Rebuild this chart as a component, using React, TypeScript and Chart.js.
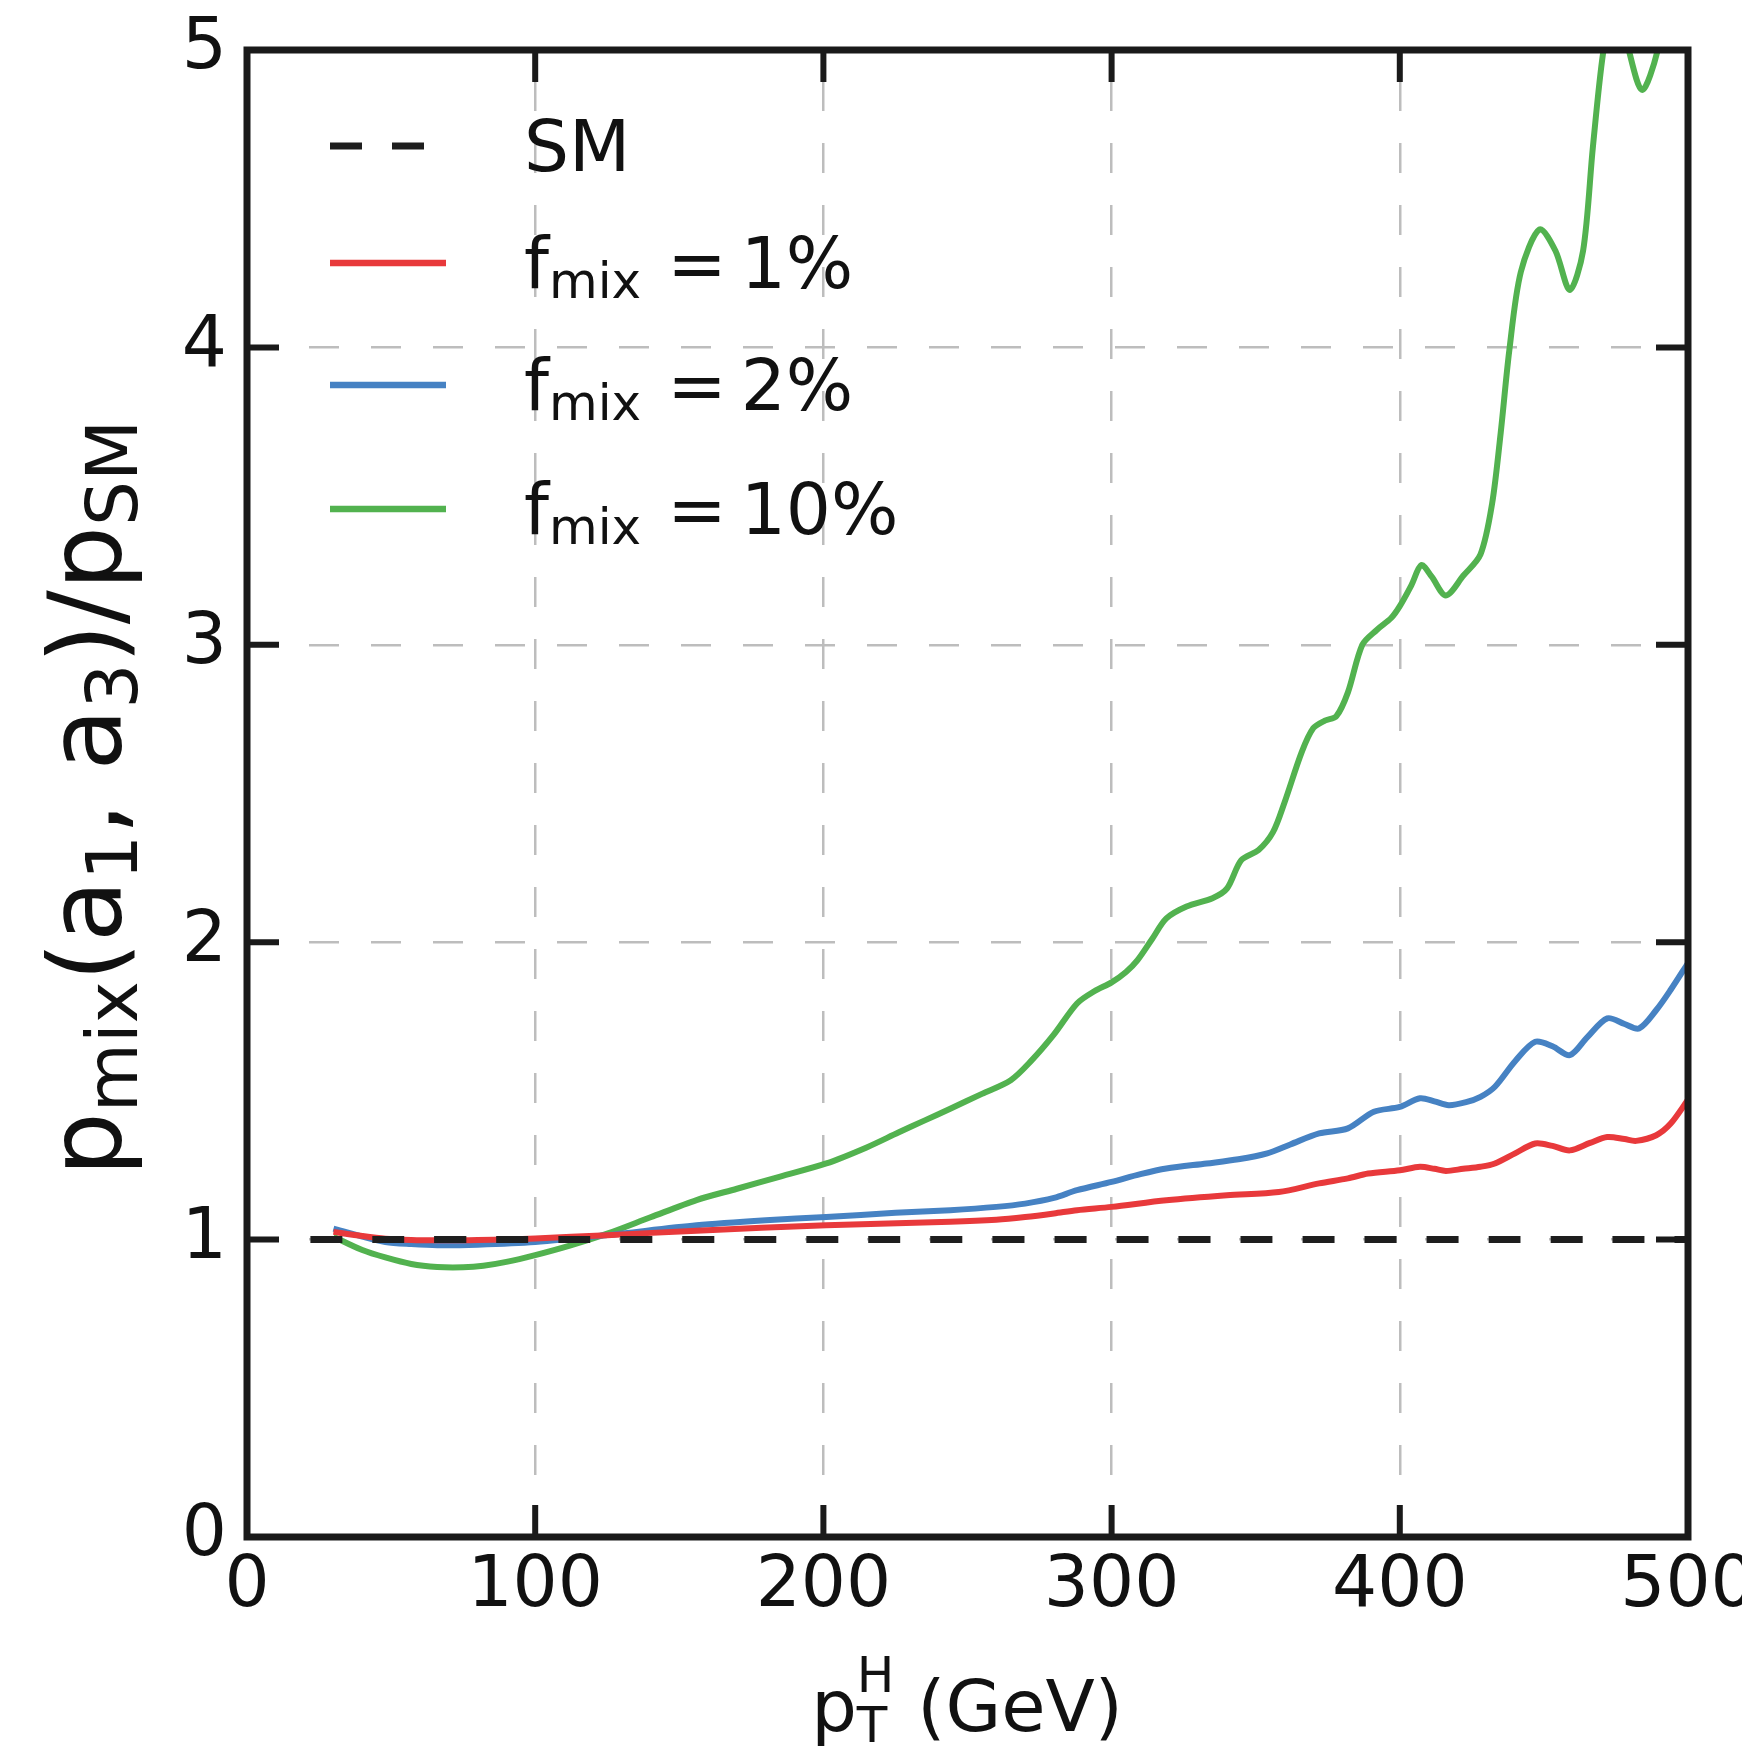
import React, { useEffect, useRef } from "react";
import { Chart, registerables } from "chart.js";

Chart.register(...registerables);

const W = 1742;
const H = 1759;
const FONT = '"DejaVu Sans", "Liberation Sans", sans-serif';

// ---- data ----
const xTicks = [0, 100, 200, 300, 400, 500];
const yTicks = [0, 1, 2, 3, 4, 5];

const ptSM = [22, 500];
const ratioSM = [1, 1];

const pt1 = [30, 40, 48, 57, 66, 80, 100, 125, 156, 201, 244, 260, 270, 280, 288, 300, 319, 340, 358, 372, 382, 389, 400, 407, 412, 416, 422, 428, 433, 440, 447, 453, 459, 466, 472, 478, 482, 489, 494, 500];
const ratio1 = [1.026, 1.012, 1.003, 0.999, 0.998, 0.999, 1.004, 1.015, 1.03, 1.048, 1.06, 1.067, 1.076, 1.088, 1.099, 1.11, 1.132, 1.149, 1.16, 1.189, 1.206, 1.222, 1.233, 1.245, 1.238, 1.231, 1.238, 1.245, 1.256, 1.29, 1.323, 1.315, 1.3, 1.325, 1.345, 1.338, 1.332, 1.351, 1.39, 1.47];

const pt2 = [30, 40, 48, 57, 66, 80, 100, 125, 156, 180, 201, 225, 244, 260, 270, 280, 288, 300, 310, 319, 333, 344, 354, 362, 372, 382, 391, 400, 407, 412, 417, 423, 428, 433, 440, 447, 453, 459, 465, 472, 478, 483, 489, 494, 500];
const ratio2 = [1.037, 1.01, 0.992, 0.985, 0.981, 0.983, 0.992, 1.015, 1.048, 1.065, 1.076, 1.09, 1.099, 1.11, 1.121, 1.14, 1.166, 1.194, 1.22, 1.239, 1.256, 1.27, 1.29, 1.32, 1.357, 1.374, 1.43, 1.446, 1.475, 1.465, 1.452, 1.462, 1.48, 1.514, 1.6, 1.665, 1.65, 1.62, 1.68, 1.744, 1.725, 1.71, 1.772, 1.84, 1.93];

const pt10 = [30, 40, 48, 57, 66, 75, 82, 90, 100, 112, 125, 140, 156, 170, 185, 201, 215, 226, 235, 244, 255, 265, 272, 280, 288, 294, 300, 305, 309, 314, 319, 326, 335, 340, 345, 351, 356, 360, 366, 370, 374, 378, 382, 387, 392, 397, 400, 404, 407.5, 411, 416, 422, 428, 432, 435, 438, 442, 448.5, 454, 459, 463.6, 467, 470.5, 474, 478, 484, 489.5, 495, 500];
const ratio10 = [1.01, 0.965, 0.94, 0.918, 0.908, 0.907, 0.912, 0.925, 0.948, 0.98, 1.02, 1.075, 1.133, 1.171, 1.212, 1.256, 1.31, 1.36, 1.4, 1.44, 1.49, 1.536, 1.6, 1.69, 1.794, 1.835, 1.865, 1.9, 1.94, 2.01, 2.08, 2.12, 2.148, 2.18, 2.276, 2.31, 2.37, 2.47, 2.64, 2.72, 2.745, 2.76, 2.84, 3.0, 3.05, 3.09, 3.13, 3.2, 3.268, 3.23, 3.166, 3.232, 3.304, 3.473, 3.712, 3.99, 4.254, 4.397, 4.325, 4.193, 4.325, 4.674, 4.987, 5.15, 5.05, 4.866, 5.0, 5.3, 5.6];

const seriesPercent = ["1%", "2%", "10%"];
const colors = ["#e8393b", "#4682c3", "#52b24f"];
const SM_COLOR = "#1e1e1e";

const toXY = (xs: number[], ys: number[]) => xs.map((x, i) => ({ x, y: ys[i] }));

type Part = { t: string; s: number; dy?: number; gap?: number };

function measureParts(ctx: CanvasRenderingContext2D, parts: Part[]) {
  let w = 0;
  for (const p of parts) {
    ctx.font = `${p.s}px ${FONT}`;
    w += (p.gap || 0) + ctx.measureText(p.t).width;
  }
  return w;
}

function drawParts(ctx: CanvasRenderingContext2D, parts: Part[], x: number, y: number) {
  let cx = x;
  for (const p of parts) {
    cx += p.gap || 0;
    ctx.font = `${p.s}px ${FONT}`;
    ctx.fillText(p.t, cx, y + (p.dy || 0));
    cx += ctx.measureText(p.t).width;
  }
  return cx;
}

const TICK_LEN = 32;

const framePlugin = {
  id: "frameTicks",
  afterDatasetsDraw(chart: any) {
    const { ctx, chartArea: a, scales } = chart;
    ctx.save();
    ctx.strokeStyle = "#1a1a1a";
    ctx.lineCap = "butt";
    ctx.lineWidth = 6;
    ctx.beginPath();
    for (const v of xTicks) {
      const px = scales.x.getPixelForValue(v);
      ctx.moveTo(px, a.bottom);
      ctx.lineTo(px, a.bottom - TICK_LEN);
      ctx.moveTo(px, a.top);
      ctx.lineTo(px, a.top + TICK_LEN);
    }
    for (const v of yTicks) {
      const py = scales.y.getPixelForValue(v);
      ctx.moveTo(a.left, py);
      ctx.lineTo(a.left + TICK_LEN, py);
      ctx.moveTo(a.right, py);
      ctx.lineTo(a.right - TICK_LEN, py);
    }
    ctx.stroke();
    ctx.lineWidth = 7;
    ctx.lineJoin = "miter";
    ctx.strokeRect(a.left, a.top, a.right - a.left, a.bottom - a.top);
    ctx.restore();
  },
};

const textPlugin = {
  id: "richText",
  afterDraw(chart: any) {
    const { ctx } = chart;
    ctx.save();
    ctx.fillStyle = "#111";
    ctx.textBaseline = "alphabetic";
    ctx.textAlign = "left";

    // ---- legend ----
    const rows = [146, 263, 385, 509];
    const lx0 = 330;
    const lx1 = 446;
    const tx = 524;
    ctx.save();
    ctx.strokeStyle = SM_COLOR;
    ctx.lineWidth = 7;
    ctx.setLineDash([32, 30]);
    ctx.beginPath();
    ctx.moveTo(lx0, rows[0]);
    ctx.lineTo(lx1, rows[0]);
    ctx.stroke();
    ctx.restore();
    drawParts(ctx, [{ t: "SM", s: 71 }], tx, rows[0] + 25);
    for (let i = 0; i < 3; i++) {
      const y = rows[i + 1];
      ctx.save();
      ctx.strokeStyle = colors[i];
      ctx.lineWidth = 6.5;
      ctx.beginPath();
      ctx.moveTo(lx0, y);
      ctx.lineTo(lx1, y);
      ctx.stroke();
      ctx.restore();
      drawParts(
        ctx,
        [
          { t: "f", s: 71 },
          { t: "mix", s: 50, dy: 10 },
          { t: "=", s: 71, gap: 26 },
          { t: seriesPercent[i], s: 71, gap: 14 },
        ],
        tx,
        y + 25
      );
    }

    // ---- x-axis title: p_T^H (GeV) ----
    const XS = 72;
    const XSS = 50;
    ctx.font = `${XS}px ${FONT}`;
    const pW = ctx.measureText("p").width;
    ctx.font = `${XSS}px ${FONT}`;
    const hW = Math.max(ctx.measureText("H").width, ctx.measureText("T").width);
    ctx.font = `${XS}px ${FONT}`;
    const restW = ctx.measureText(" (GeV)").width;
    const totalX = pW + hW + restW;
    const xBase = 1731;
    let cx = 967 - totalX / 2;
    ctx.font = `${XS}px ${FONT}`;
    ctx.fillText("p", cx, xBase);
    cx += pW;
    ctx.font = `${XSS}px ${FONT}`;
    ctx.fillText("T", cx, xBase + 11);
    ctx.fillText("H", cx, xBase - 39);
    cx += hW;
    ctx.font = `${XS}px ${FONT}`;
    ctx.fillText(" (GeV)", cx, xBase);

    // ---- y-axis title: p_mix(a_1, a_3)/p_SM ----
    const yParts: Part[] = [
      { t: "p", s: 101 },
      { t: "mix", s: 71, dy: 16 },
      { t: "(a", s: 101 },
      { t: "1", s: 71, dy: 16 },
      { t: ", a", s: 101 },
      { t: "3", s: 71, dy: 16 },
      { t: ")/p", s: 101 },
      { t: "SM", s: 71, dy: 16 },
    ];
    const yW = measureParts(ctx, yParts);
    ctx.translate(121, 798);
    ctx.rotate(-Math.PI / 2);
    drawParts(ctx, yParts, -yW / 2, 0);
    ctx.restore();
  },
};

export default function App() {
  const ref = useRef<HTMLCanvasElement>(null);

  useEffect(() => {
    const canvas = ref.current;
    if (!canvas) return;
    const lineBase = {
      pointRadius: 0,
      pointHoverRadius: 0,
      fill: false,
      tension: 0.3,
    };
    const chart = new Chart(canvas, {
      type: "line",
      data: {
        datasets: [
          {
            ...lineBase,
            label: "SM",
            data: toXY(ptSM, ratioSM),
            borderColor: SM_COLOR,
            borderWidth: 7,
            borderDash: [32, 30],
            borderCapStyle: "butt",
          },
          {
            ...lineBase,
            label: "f_mix = 1%",
            data: toXY(pt1, ratio1),
            borderColor: colors[0],
            borderWidth: 6,
          },
          {
            ...lineBase,
            label: "f_mix = 2%",
            data: toXY(pt2, ratio2),
            borderColor: colors[1],
            borderWidth: 6,
          },
          {
            ...lineBase,
            label: "f_mix = 10%",
            data: toXY(pt10, ratio10),
            borderColor: colors[2],
            borderWidth: 6,
          },
        ],
      },
      options: {
        animation: false,
        responsive: false,
        devicePixelRatio: 1,
        layout: { padding: { left: 0, right: 54, top: 50, bottom: 0 } },
        plugins: {
          legend: { display: false },
          tooltip: { enabled: false },
          title: { display: false },
        },
        scales: {
          x: {
            type: "linear",
            position: "bottom",
            min: 0,
            max: 500,
            ticks: {
              stepSize: 100,
              autoSkip: false,
              maxRotation: 0,
              minRotation: 0,
              padding: 8,
              color: "#111",
              font: { family: FONT, size: 71 },
            },
            grid: { color: "#bdbdbd", lineWidth: 2.5, drawTicks: false },
            border: { display: false, dash: [30, 32], dashOffset: 31 },
            afterFit: (s: any) => {
              s.height = 222;
              s.paddingLeft = 0;
              s.paddingRight = 0;
            },
          },
          y: {
            type: "linear",
            min: 0,
            max: 5,
            ticks: {
              stepSize: 1,
              autoSkip: false,
              padding: 20,
              color: "#111",
              font: { family: FONT, size: 71 },
            },
            grid: { color: "#bdbdbd", lineWidth: 2.5, drawTicks: false },
            border: { display: false, dash: [30, 32] },
            afterFit: (s: any) => {
              s.width = 247;
              s.paddingTop = 0;
              s.paddingBottom = 0;
            },
          },
        },
      },
      plugins: [framePlugin, textPlugin],
    } as any);
    return () => chart.destroy();
  }, []);

  return (
    <div
      style={{
        position: "fixed",
        left: 0,
        top: 0,
        width: W,
        height: H,
        overflow: "hidden",
        background: "#fff",
      }}
    >
      <canvas
        ref={ref}
        width={W}
        height={H}
        style={{ display: "block", width: `${W}px`, height: `${H}px` }}
      />
    </div>
  );
}
